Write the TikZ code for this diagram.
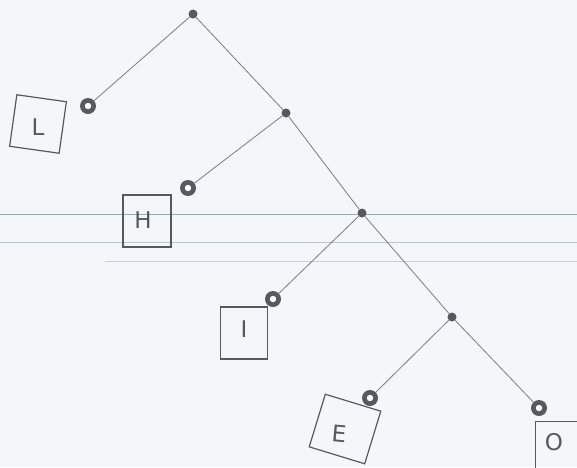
\documentclass[tikz,border=0pt]{standalone}
\usepackage{fontspec}
\setsansfont{DejaVu Sans}
\definecolor{paper}{RGB}{243,247,250}
\definecolor{ink}{RGB}{85,90,95}
\definecolor{edgec}{RGB}{120,125,130}
\definecolor{scanline}{RGB}{150,170,180}
\begin{document}
\begin{tikzpicture}[x=1pt,y=-1pt,
  inner/.style={circle,fill=ink,inner sep=0pt,minimum size=9pt},
  ring/.style={circle,fill=ink,inner sep=0pt,minimum size=16pt,
     path picture={\fill[white] (path picture bounding box.center) circle[radius=3.2pt];}},
  letterbox/.style={draw=ink,line width=1.2pt,inner sep=0pt,minimum width=50pt,minimum height=52pt},
  letter/.style={font=\sffamily\fontsize{23}{27}\selectfont,text=ink},
  edge/.style={draw=edgec,line width=0.8pt},
  scan/.style={draw=scanline,line width=0.9pt}]
\fill[paper] (0,0) rectangle (577,467);
\useasboundingbox (0,0) rectangle (577,467);
% faint scan lines
\coordinate (s1a) at (0,214); \coordinate (s1b) at (577,214);
\coordinate (s2a) at (0,242); \coordinate (s2b) at (577,242);
\coordinate (s3a) at (105,261); \coordinate (s3b) at (577,261);
\draw[scan] (s1a) -- (s1b);
\draw[scan,opacity=0.6] (s2a) -- (s2b);
\draw[scan,opacity=0.5] (s3a) -- (s3b);
% internal nodes
\node[inner] (r) at (193,14) {};
\node[inner] (n2) at (286,113) {};
\node[inner] (n3) at (362,213) {};
\node[inner] (n4) at (452,317) {};
% leaves
\node[ring] (lL) at (88,106) {};
\node[ring] (lH) at (188,188) {};
\node[ring] (lI) at (273,299) {};
\node[ring] (lE) at (370,398) {};
\node[ring] (lO) at (539,408) {};
% edges
\draw[edge] (r) -- (lL);
\draw[edge] (r) -- (n2);
\draw[edge] (n2) -- (lH);
\draw[edge] (n2) -- (n3);
\draw[edge] (n3) -- (lI);
\draw[edge] (n3) -- (n4);
\draw[edge] (n4) -- (lE);
\draw[edge] (n4) -- (lO);
% letter boxes
\node[letterbox,rotate=-8] (bL) at (38,124) {};
\node[letter] (tL) at (38,127) {L};
\node[letterbox,minimum width=48pt] (bH) at (147,221) {};
\node[letter] (tH) at (143,220) {H};
\node[letterbox,minimum width=47pt] (bI) at (244,333) {};
\node[letter] (tI) at (244,329) {I};
\node[letterbox,rotate=-17,minimum width=58pt,minimum height=55pt] (bE) at (345,429) {};
\node[letter,rotate=-5] (tE) at (339,434) {E};
\node[letterbox,anchor=north west,minimum width=60pt,minimum height=60pt] (bO) at (535,421) {};
\node[letter] (tO) at (554,442) {O};
\end{tikzpicture}
\end{document}
